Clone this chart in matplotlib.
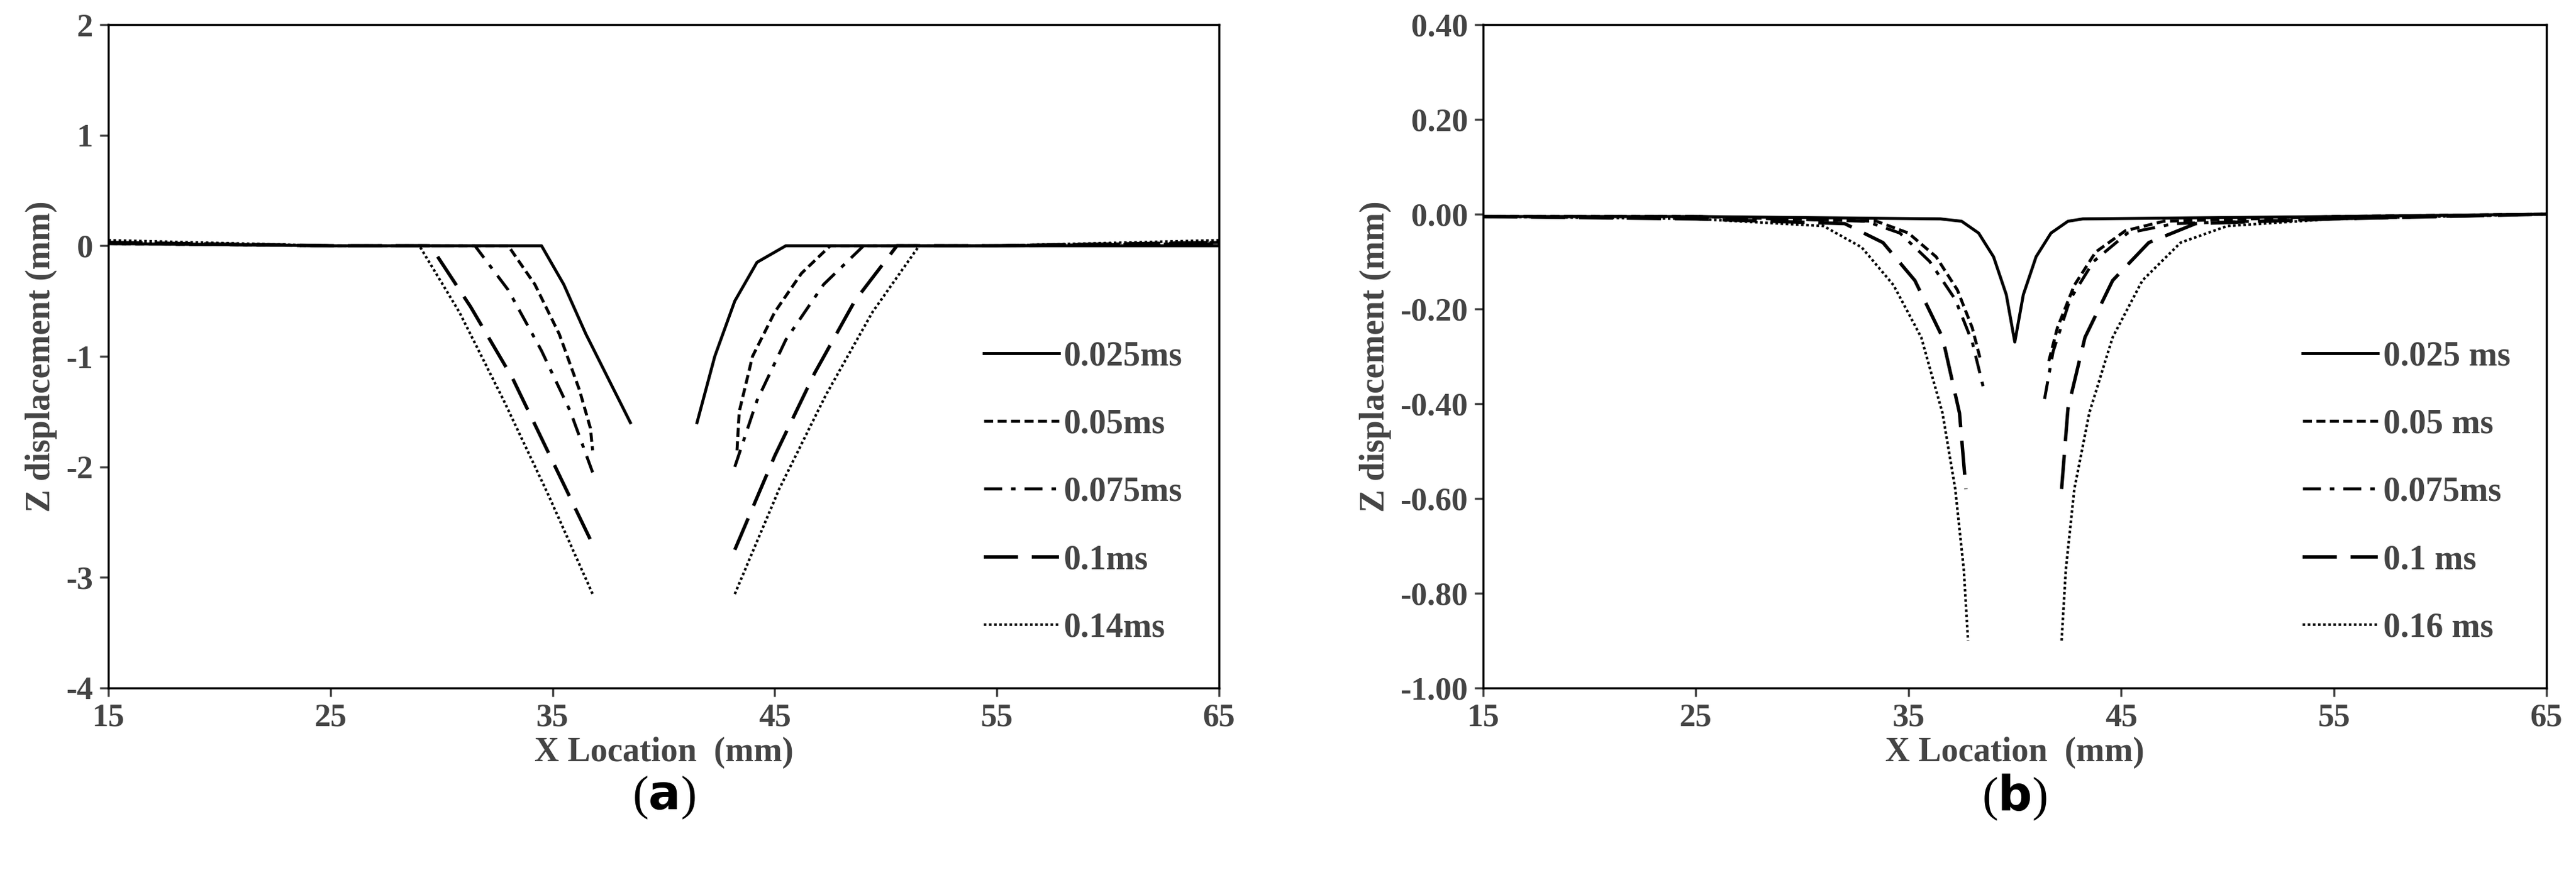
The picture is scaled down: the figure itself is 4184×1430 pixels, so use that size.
import matplotlib
matplotlib.use("Agg")
import matplotlib.pyplot as plt
import numpy as np

plt.rcParams['font.family'] = ['Liberation Serif', 'DejaVu Serif']
plt.rcParams['font.weight'] = 'bold'

# ---------- Panel (a) data ----------
a_labels = ["0.025ms", "0.05ms", "0.075ms", "0.1ms", "0.14ms"]
a_x = [
    [15, 25, 34.5, 35.5, 36.5, 37.5, 38.5, None, 41.5, 42.3, 43.2, 44.2, 45.5, 55, 65],
    [15, 25, 33.0, 34.2, 35.3, 36.2, 36.7, 36.8, None, 43.3, 43.4, 44.0, 45.0, 46.2, 47.5, 55, 65],
    [15, 25, 31.5, 33.0, 34.5, 35.8, 36.8, None, 43.2, 44.2, 45.5, 47.2, 49.0, 55, 65],
    [15, 25, 29.5, 31.3, 33.2, 35.0, 36.8, None, 43.2, 45.0, 46.8, 48.6, 50.5, 55, 65],
    [15, 25, 29.0, 30.8, 32.8, 34.8, 36.8, None, 43.2, 45.2, 47.3, 49.4, 51.5, 55, 65],
]
a_y = [
    [0.02, 0, 0, -0.35, -0.8, -1.2, -1.6, None, -1.6, -1.0, -0.5, -0.15, 0, 0, 0],
    [0.02, 0, 0, -0.35, -0.8, -1.3, -1.65, -1.85, None, -1.85, -1.5, -1.0, -0.6, -0.25, 0, 0, 0.02],
    [0.02, 0, 0, -0.4, -0.95, -1.5, -2.05, None, -2.0, -1.4, -0.85, -0.35, 0, 0, 0.03],
    [0.03, 0, 0, -0.55, -1.2, -1.95, -2.7, None, -2.75, -1.9, -1.15, -0.5, 0, 0, 0.03],
    [0.05, 0, 0, -0.6, -1.4, -2.25, -3.15, None, -3.15, -2.2, -1.35, -0.6, 0, 0, 0.05],
]

# ---------- Panel (b) data ----------
b_labels = ["0.025 ms", "0.05 ms", "0.075ms", "0.1 ms", "0.16 ms"]
b_x = [
    [15, 25, 36.5, 37.5, 38.3, 39.0, 39.6, 40.0, 40.4, 41.0, 41.7, 42.5, 43.2, 55, 65],
    [15, 25, 33.5, 35.0, 36.3, 37.3, 38.0, 38.4, None, 41.6, 42.0, 42.8, 43.8, 45.2, 47.0, 55, 65],
    [15, 25, 33.0, 34.6, 36.0, 37.2, 38.0, 38.6, None, 41.4, 41.8, 42.6, 43.7, 45.3, 47.5, 55, 65],
    [15, 25, 32.0, 33.8, 35.3, 36.6, 37.4, 37.7, None, 42.2, 42.5, 43.3, 44.6, 46.3, 48.5, 55, 65],
    [15, 25, 31.0, 32.8, 34.3, 35.6, 36.6, 37.2, 37.6, 37.8, None, 42.2, 42.4, 42.8, 43.5, 44.6, 46.0, 47.8, 50.0, 55, 65],
]
b_y = [
    [-0.005, -0.005, -0.01, -0.015, -0.04, -0.09, -0.17, -0.27, -0.17, -0.09, -0.04, -0.015, -0.01, -0.005, 0],
    [-0.005, -0.005, -0.015, -0.04, -0.09, -0.16, -0.24, -0.31, None, -0.31, -0.24, -0.15, -0.08, -0.035, -0.015, -0.005, 0],
    [-0.005, -0.005, -0.015, -0.04, -0.1, -0.18, -0.27, -0.38, None, -0.39, -0.29, -0.18, -0.1, -0.04, -0.02, -0.01, 0],
    [-0.005, -0.01, -0.02, -0.06, -0.14, -0.26, -0.42, -0.58, None, -0.58, -0.41, -0.26, -0.14, -0.06, -0.02, -0.01, 0],
    [-0.005, -0.01, -0.025, -0.07, -0.15, -0.26, -0.42, -0.58, -0.75, -0.9, None, -0.9, -0.75, -0.58, -0.42, -0.26, -0.14, -0.06, -0.025, -0.01, 0],
]

styles = [
    dict(linestyle='-', linewidth=3.5),
    dict(linestyle=(0, (3, 1.5)), linewidth=3.5),
    dict(linestyle=(0, (6, 3, 1.5, 3)), linewidth=3.5),
    dict(linestyle=(0, (10, 4)), linewidth=4.0),
    dict(linestyle=(0, (1, 1)), linewidth=3.0),
]

def nanify(v):
    return np.array([np.nan if e is None else e for e in v], dtype=float)

fig = plt.figure(figsize=(41.84, 14.3), dpi=100)
ax1 = fig.add_axes([176/4184, 1 - 1118/1430, (1980-176)/4184, (1118-40)/1430])
ax2 = fig.add_axes([2409/4184, 1 - 1118/1430, (4136-2409)/4184, (1118-40)/1430])

def draw(ax, xs, ys, labels, ylim, yticks, yfmt, letter):
    for x, y, lab, st in zip(xs, ys, labels, styles):
        ax.plot(nanify(x), nanify(y), color='black', label=lab, **st)
    ax.set_xlim(15, 65)
    ax.set_ylim(*ylim)
    ax.set_xticks([15, 25, 35, 45, 55, 65])
    ax.set_yticks(yticks)
    ax.set_yticklabels([yfmt.format(t) for t in yticks])
    ax.tick_params(axis='both', labelsize=38, colors='#444444', length=10, width=2.5, direction='out', pad=8)
    for lab in ax.get_xticklabels() + ax.get_yticklabels():
        lab.set_fontweight('bold')
    for s in ax.spines.values():
        s.set_linewidth(2.5)
        s.set_color('black')
    ax.set_xlabel('X Location  (mm)', fontsize=40, fontweight='bold', color='#444444', labelpad=4)
    ax.set_ylabel('Z displacement (mm)', fontsize=40, fontweight='bold', color='#444444', labelpad=10)
    leg = ax.legend(loc='lower right', bbox_to_anchor=(0.995, 0.02), frameon=False,
                    handlelength=2.2, handletextpad=0.15, labelspacing=1.05,
                    prop={'weight': 'bold', 'size': 40})
    for t in leg.get_texts():
        t.set_color('#444444')
    ax.text(0.5, -0.165, '(' + r'$\mathbf{' + letter + '}$' + ')', transform=ax.transAxes,
            ha='center', va='center', fontsize=56, fontweight='normal')

draw(ax1, a_x, a_y, a_labels, (-4, 2), [-4, -3, -2, -1, 0, 1, 2], '{:g}', 'a')
draw(ax2, b_x, b_y, b_labels, (-1.0, 0.4),
     [-1.0, -0.8, -0.6, -0.4, -0.2, 0.0, 0.2, 0.4], '{:.2f}', 'b')

fig.savefig('out.png', dpi=100)
